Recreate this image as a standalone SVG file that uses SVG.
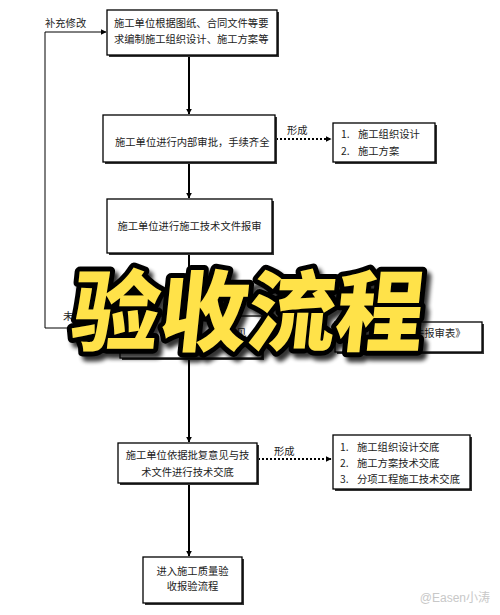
<svg xmlns="http://www.w3.org/2000/svg" width="500" height="615" viewBox="0 0 500 615">
<defs>
<marker id="ah" viewBox="0 0 10 10" refX="9" refY="5" markerWidth="6" markerHeight="6" orient="auto" markerUnits="userSpaceOnUse"><path d="M0,0 L10,5 L0,10 z" fill="#000"/></marker>
<filter id="ds" x="-10%" y="-10%" width="130%" height="140%"><feGaussianBlur in="SourceAlpha" stdDeviation="2"/><feOffset dx="4" dy="5"/><feComponentTransfer><feFuncA type="linear" slope="0.8"/></feComponentTransfer><feMerge><feMergeNode/><feMergeNode in="SourceGraphic"/></feMerge></filter>
</defs>
<style>
.box{fill:#fff;stroke:#000;stroke-width:1.3}
.sh{fill:#333}
.t{font-family:"Noto Sans CJK SC","Noto Sans",sans-serif;font-size:10.3px;fill:#222}
.tm{text-anchor:middle}
.ln{stroke:#000;stroke-width:2;fill:none}
.fb{stroke:#000;stroke-width:1;fill:none}
.dt{stroke:#000;stroke-width:2.2;stroke-dasharray:2 2;fill:none}
.title{font-family:"Noto Sans CJK SC",sans-serif;font-weight:900;font-size:88px;fill:#FFE24A;stroke:#000;stroke-width:10;stroke-linejoin:round;paint-order:stroke fill}
</style>
<rect width="500" height="615" fill="#fff"/>
<g id="connectors">
<path class="ln" d="M189,55 V114" marker-end="url(#ah)"/>
<path class="ln" d="M189,162 V198" marker-end="url(#ah)"/>
<path class="ln" d="M189,253 V316"/>
<path class="ln" d="M189,358 V442" marker-end="url(#ah)"/>
<path class="ln" d="M189,483 V556" marker-end="url(#ah)"/>
<path class="dt" d="M276,139 H331" marker-end="url(#ah)"/>
<path class="dt" d="M258,459 H331" marker-end="url(#ah)"/>
<path class="fb" d="M120,328 H45 V32 H106" marker-end="url(#ah)"/>
<text class="t" x="45" y="27">补充修改</text>
<text class="t" x="287" y="134">形成</text>
<text class="t" x="274" y="455">形成</text>
<text class="t" x="63" y="320">未</text>
</g>
<g id="n1">
<rect class="sh" x="109" y="12" width="170" height="45"/>
<rect class="box" x="107" y="10" width="170" height="45"/>
<text class="t" x="114" y="27">施工单位根据图纸、合同文件等要</text>
<text class="t" x="114" y="43">求编制施工组织设计、施工方案等</text>
</g>
<g id="n2">
<rect class="sh" x="105" y="117" width="172" height="47"/>
<rect class="box" x="103" y="115" width="172" height="47"/>
<text class="t" x="115" y="146">施工单位进行内部审批，手续齐全</text>
</g>
<g id="r2">
<rect class="sh" x="335" y="125" width="102" height="39"/>
<rect class="box" x="333" y="123" width="102" height="39"/>
<text class="t" x="341" y="138">1.</text><text class="t" x="358" y="138">施工组织设计</text>
<text class="t" x="341" y="155">2.</text><text class="t" x="358" y="155">施工方案</text>
</g>
<g id="n3">
<rect class="sh" x="109" y="201" width="165" height="54"/>
<rect class="box" x="107" y="199" width="165" height="54"/>
<text class="t tm" x="189.5" y="230">施工单位进行施工技术文件报审</text>
</g>
<g id="n4">
<rect class="sh" x="122" y="318" width="142" height="42"/>
<rect class="box" x="120" y="316" width="142" height="42"/>
<text class="t" x="226" y="337">意见</text>
</g>
<g id="r4">
<rect class="sh" x="337" y="324" width="147" height="30"/>
<rect class="box" x="335" y="322" width="147" height="30"/>
<text class="t" x="414" y="337">件报审表》</text>
</g>
<g id="n5">
<rect class="sh" x="120" y="445" width="139" height="40"/>
<rect class="box" x="118" y="443" width="139" height="40"/>
<text class="t tm" x="187.5" y="459">施工单位依据批复意见与技</text>
<text class="t tm" x="187.5" y="476">术文件进行技术交底</text>
</g>
<g id="r5">
<rect class="sh" x="335" y="437" width="137" height="54"/>
<rect class="box" x="333" y="435" width="137" height="54"/>
<text class="t" x="340" y="451">1.</text><text class="t" x="357" y="451">施工组织设计交底</text>
<text class="t" x="340" y="467">2.</text><text class="t" x="357" y="467">施工方案技术交底</text>
<text class="t" x="340" y="483">3.</text><text class="t" x="357" y="483">分项工程施工技术交底</text>
</g>
<g id="n6">
<rect class="sh" x="145" y="559" width="99" height="46"/>
<rect class="box" x="143" y="557" width="99" height="46"/>
<text class="t tm" x="192.5" y="575">进入施工质量验</text>
<text class="t tm" x="192.5" y="590">收报验流程</text>
</g>
<g id="title" filter="url(#ds)">
<text class="title" text-anchor="middle" transform="translate(245,344) skewX(-6)">验收流程</text>
</g>
<text x="490" y="602" text-anchor="end" font-family="'Liberation Sans','Noto Sans CJK SC',sans-serif" font-size="12" fill="#c8c8c8">@Easen小涛</text>
</svg>
